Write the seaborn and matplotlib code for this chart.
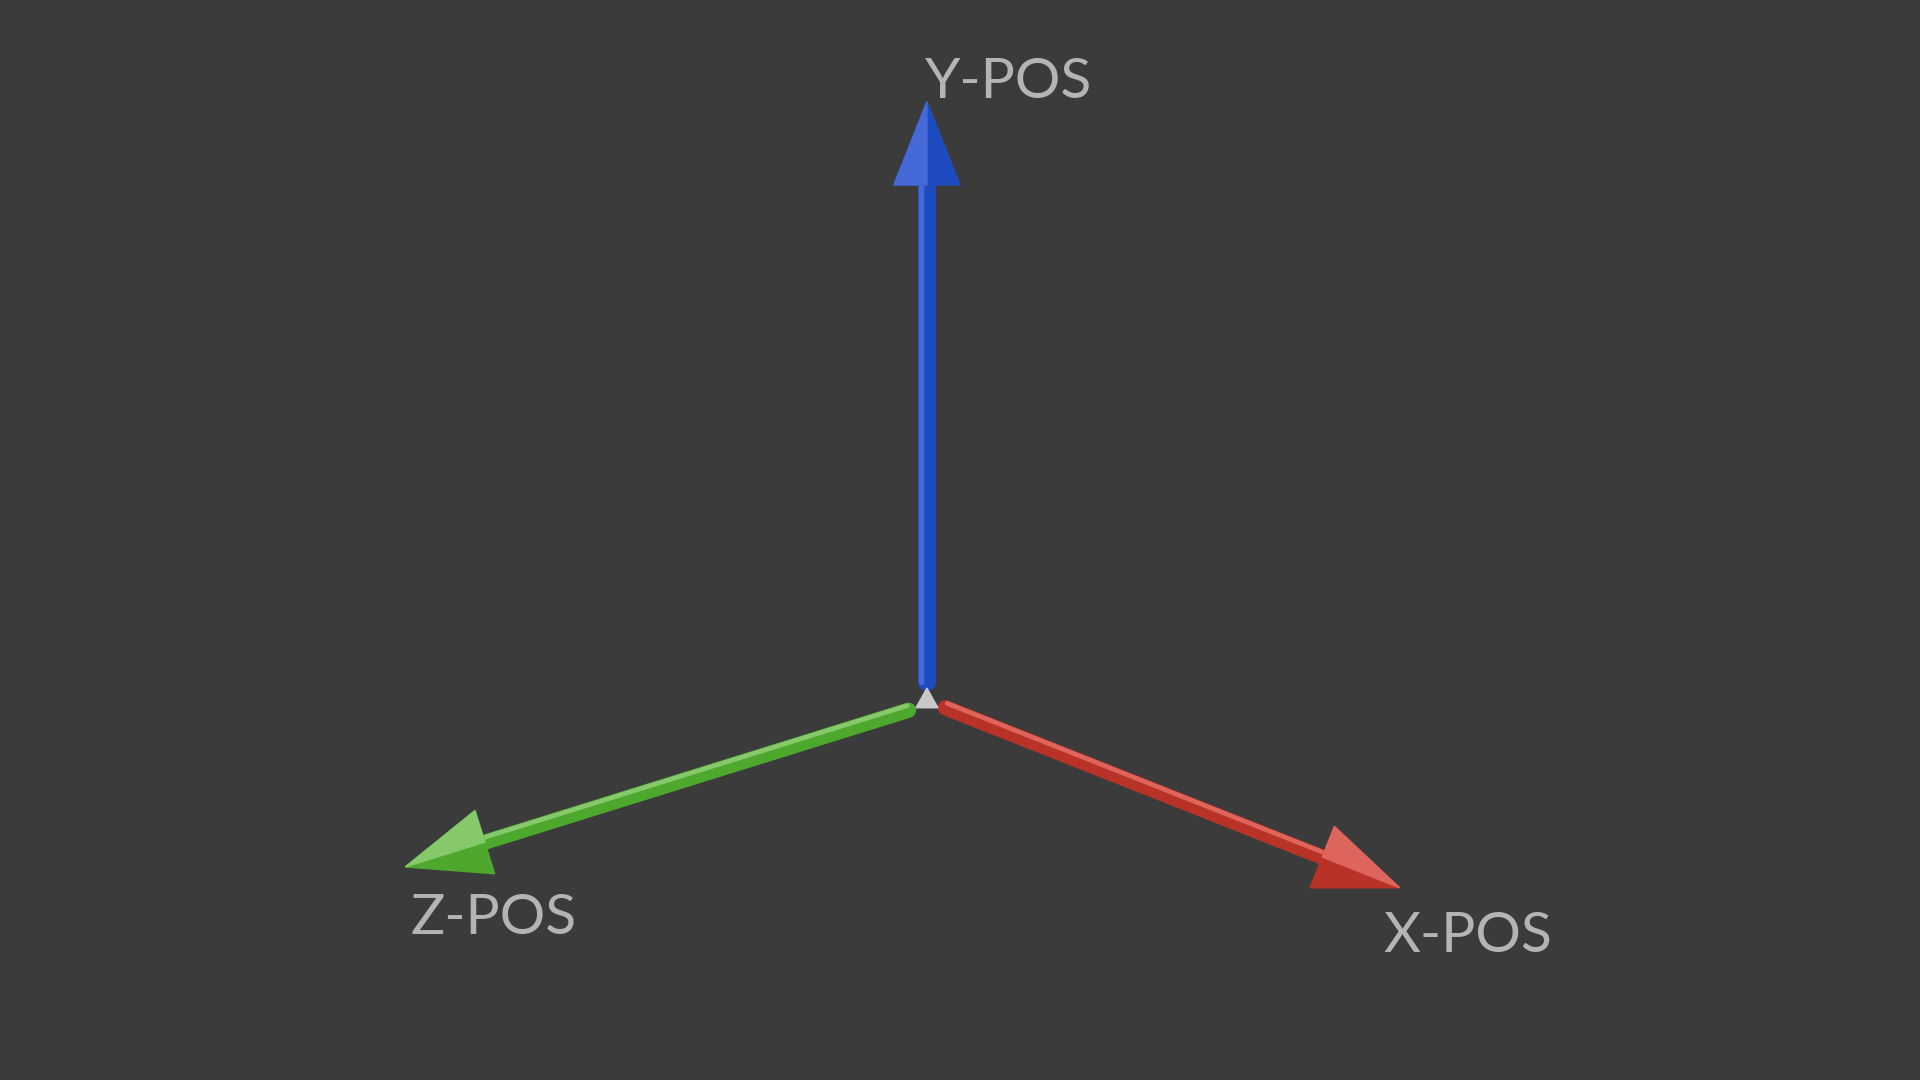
import numpy as np
import pandas as pd
import matplotlib.pyplot as plt
import seaborn as sns
from matplotlib.patches import Polygon

# Axis gizmo data (picture coordinates, 1568x882 frame, y grows downward)
axis_names = ["X-POS", "Y-POS", "Z-POS"]
shaft_start_x = [772, 757, 742]
shaft_start_y = [578, 557, 580]
tip_x = [1143, 757, 331]
tip_y = [725, 83, 708]
label_x = [1130, 755, 335]
label_y = [765, 67, 750]
origin_x = [757]
origin_y = [570]

BG = "#3b3b3b"
DARK = {"X-POS": "#b83228", "Y-POS": "#1e4cc0", "Z-POS": "#4fa82e"}
LIGHT = {"X-POS": "#de655c", "Y-POS": "#4569d6", "Z-POS": "#85c96a"}
WIDTH = {"X-POS": 11, "Y-POS": 13, "Z-POS": 11}
HEAD_LEN = 68
HEAD_HALF = 27

sns.set_theme(style="white")
plt.rcParams["font.family"] = ["Lato", "DejaVu Sans"]

fig, ax = plt.subplots(figsize=(19.2, 10.8), dpi=100)
fig.subplots_adjust(0, 0, 1, 1)
fig.patch.set_facecolor(BG)
ax.set_facecolor(BG)

for i, name in enumerate(axis_names):
    s = np.array([shaft_start_x[i], shaft_start_y[i]], float)
    t = np.array([tip_x[i], tip_y[i]], float)
    d = (t - s) / np.linalg.norm(t - s)
    n = np.array([-d[1], d[0]])
    base = t - d * HEAD_LEN
    shaft = pd.DataFrame({"x": [s[0], base[0] + d[0] * 6], "y": [s[1], base[1] + d[1] * 6]})
    sns.lineplot(data=shaft, x="x", y="y", ax=ax, color=DARK[name], estimator=None,
                 linewidth=WIDTH[name], solid_capstyle="round", sort=False)
    # highlight strip along the upper edge of the shaft
    up = n if n[1] < 0 else -n
    if name == "Y-POS":
        up = np.array([-1.0, 0.0])
    off = up * WIDTH[name] * 0.35
    hl = pd.DataFrame({"x": [s[0] + off[0], base[0] + off[0]],
                       "y": [s[1] + off[1], base[1] + off[1]]})
    sns.lineplot(data=hl, x="x", y="y", ax=ax, color=LIGHT[name], estimator=None,
                 linewidth=WIDTH[name] * 0.3, sort=False)
    # arrowhead in two tones
    b1 = base + n * HEAD_HALF
    b2 = base - n * HEAD_HALF
    ax.add_patch(Polygon([t, b1, b2], closed=True, color=DARK[name], zorder=5))
    side = b1 if np.dot(b1 - base, up) > 0 else b2
    ax.add_patch(Polygon([t, side, base], closed=True, color=LIGHT[name], zorder=6))
    ax.text(label_x[i], label_y[i], name, color="#b4b4b4", fontsize=41,
            ha="left", va="center", zorder=7)

ax.add_patch(Polygon([(origin_x[0] - 9, origin_y[0] + 8), (origin_x[0] + 9, origin_y[0] + 8),
                      (origin_x[0], origin_y[0] - 8)], closed=True, color="#c8c8c8", zorder=8))

ax.set_xlim(0, 1568)
ax.set_ylim(882, 0)
ax.set_axis_off()
fig.savefig("out.png", dpi=100, facecolor=BG)
